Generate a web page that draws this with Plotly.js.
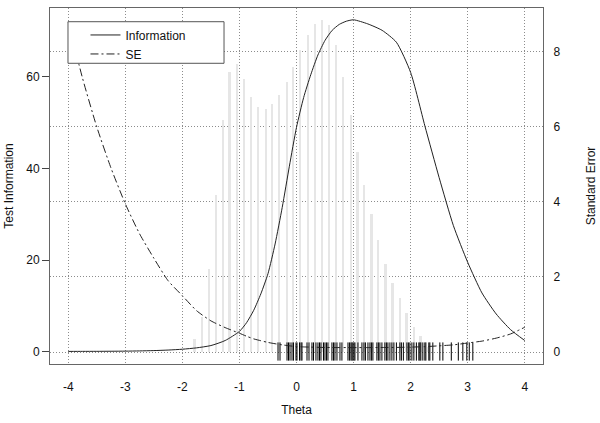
<!DOCTYPE html>
<html><head><meta charset="utf-8">
<script src="https://cdn.plot.ly/plotly-3.0.1.min.js"></script>
<style>html,body{margin:0;padding:0;background:#fff}#chart{width:600px;height:423px}</style>
</head><body><div id="chart"></div>
<script>
// Theta grid for the curves
const theta = [-4, -3.75, -3.5, -3.25, -3, -2.75, -2.5, -2.25, -2, -1.75, -1.5, -1.25, -1, -0.875, -0.75, -0.625, -0.5, -0.375, -0.25, -0.125, 0, 0.125, 0.25, 0.375, 0.5, 0.625, 0.75, 0.875, 1, 1.25, 1.5, 1.75, 2, 2.25, 2.5, 2.75, 3, 3.25, 3.5, 3.75, 4];
// Test information (left axis)
const information = [0.02, 0.03, 0.04, 0.06, 0.08, 0.13, 0.2, 0.32, 0.5, 0.8, 1.3, 2.4, 4.4, 6.3, 9, 12.6, 17, 23.5, 31.5, 40.5, 49, 55.5, 60.5, 64.8, 68, 70.2, 71.5, 72.2, 72.5, 71.6, 70.2, 67.6, 61, 49.3, 38, 27.5, 19.5, 12.8, 8.2, 4.8, 2.4];
// Standard error (right axis)
const standardError = [8.8, 7.3, 6.0, 4.9, 3.95, 3.15, 2.5, 1.9, 1.5, 1.1, 0.83, 0.65, 0.5, 0.42, 0.35, 0.3, 0.255, 0.22, 0.19, 0.165, 0.145, 0.135, 0.13, 0.125, 0.12, 0.119, 0.118, 0.118, 0.117, 0.118, 0.12, 0.122, 0.13, 0.142, 0.165, 0.19, 0.24, 0.29, 0.37, 0.48, 0.66];
// Histogram of theta estimates (grey spikes, left axis scale)
const histTheta = [-1.789, -1.660, -1.532, -1.409, -1.292, -1.176, -1.047, -0.919, -0.797, -0.669, -0.539, -0.424, -0.301, -0.172, -0.056, 0.061, 0.196, 0.324, 0.452, 0.569, 0.691, 0.819, 0.949, 1.071, 1.187, 1.316, 1.432, 1.561, 1.684, 1.812, 1.929, 2.057, 2.174, 2.302];
const histHeight = [2.8, 7.5, 18.0, 34.1, 50.5, 61.2, 62.9, 59.6, 55.7, 53.5, 53.0, 54.2, 56.0, 58.8, 62.1, 65.8, 69.1, 71.6, 72.4, 71.4, 67.0, 60.0, 51.6, 43.6, 36.5, 30.1, 24.3, 19.1, 15.0, 11.8, 8.5, 5.3, 3.3, 1.0];
// Rug of observed theta values
const rugTheta = [-0.324, -0.289, -0.166, -0.140, -0.114, -0.079, -0.053, -0.009, 0.009, 0.053, 0.079, 0.096, 0.184, 0.219, 0.271, 0.298, 0.341, 0.376, 0.403, 0.429, 0.473, 0.499, 0.525, 0.551, 0.621, 0.648, 0.674, 0.709, 0.762, 0.796, 0.902, 0.928, 0.954, 0.972, 0.989, 1.007, 1.024, 1.077, 1.147, 1.182, 1.208, 1.252, 1.287, 1.313, 1.339, 1.409, 1.435, 1.462, 1.497, 1.549, 1.576, 1.602, 1.637, 1.672, 1.707, 1.751, 1.812, 1.838, 1.873, 1.935, 1.961, 1.987, 2.022, 2.057, 2.101, 2.144, 2.162, 2.179, 2.214, 2.249, 2.267, 2.319, 2.337, 2.389, 2.512, 2.565, 2.713, 2.836, 2.915, 2.985, 3.028, 3.090];
// Tick labels
const xTicks = [-4, -3, -2, -1, 0, 1, 2, 3, 4];
const yLeftTicks = [0, 20, 40, 60];
const yRightTicks = [0, 2, 4, 6, 8];

const FONT = 'Liberation Sans, Arial, sans-serif';
const GRID = '#8c8c8c';
const traces = [
  {type: 'bar', x: histTheta, y: histHeight, width: 0.04, marker: {color: '#e6e6e6', line: {width: 0}}, showlegend: false, hoverinfo: 'skip'},
  {type: 'scatter', mode: 'lines', name: 'Information', x: theta, y: information, line: {color: '#222', width: 1, shape: 'spline', smoothing: 0.6}},
  {type: 'scatter', mode: 'lines', name: 'SE', x: theta, y: standardError, yaxis: 'y2', line: {color: '#222', width: 1, dash: '8px,3px,2px,3px', shape: 'spline', smoothing: 0.6}},
  {type: 'scatter', mode: 'markers', x: rugTheta, y: rugTheta.map(() => 0), showlegend: false, hoverinfo: 'skip',
   marker: {symbol: 'line-ns', size: 13, line: {width: 1, color: '#000'}}}
];

const layout = {
  width: 600, height: 423,
  margin: {l: 50, r: 57, t: 8, b: 59},
  paper_bgcolor: '#fff', plot_bgcolor: '#fff',
  font: {family: FONT, size: 12, color: '#111'},
  showlegend: true,
  bargap: 0,
  xaxis: {range: [-4.32, 4.32], tickvals: xTicks, ticktext: xTicks.map(String),
    showgrid: true, griddash: '1px,2px', gridcolor: GRID, gridwidth: 1,
    showline: true, mirror: true, linecolor: '#666', linewidth: 1,
    ticks: 'outside', ticklen: 12, tickcolor: 'rgba(0,0,0,0)', zeroline: false,
    title: {text: 'Theta', standoff: 12, font: {size: 12}}},
  yaxis: {range: [-2.73, 75.08], tickvals: yLeftTicks, ticktext: yLeftTicks.map(String),
    showgrid: false, showline: true, mirror: true, linecolor: '#666', linewidth: 1,
    ticks: 'outside', ticklen: 7, tickcolor: '#444', zeroline: false,
    title: {text: 'Test Information', standoff: 10, font: {size: 12}}},
  yaxis2: {overlaying: 'y', side: 'right', range: [-0.32, 9.17], tickvals: yRightTicks, ticktext: yRightTicks.map(String),
    showgrid: true, griddash: '1px,2px', gridcolor: GRID, gridwidth: 1, zeroline: false,
    ticks: 'outside', ticklen: 7, tickcolor: 'rgba(0,0,0,0)', showline: false,
    title: {text: 'Standard Error', standoff: 27, font: {size: 12}}},
  legend: {x: 0.072, xanchor: 'left', y: 0.965, yanchor: 'top', bgcolor: 'rgba(0,0,0,0)', borderwidth: 0,
    font: {size: 12, family: FONT}, tracegroupgap: 0},
  shapes: [{type: 'rect', xref: 'paper', yref: 'paper', x0: 0.0365, x1: 0.353, y0: 0.8447, y1: 0.9615,
    fillcolor: '#fff', line: {color: '#555', width: 1}, layer: 'above'}]
};

Plotly.newPlot('chart', traces, layout, {staticPlot: true, displayModeBar: false});
</script>
</body></html>
